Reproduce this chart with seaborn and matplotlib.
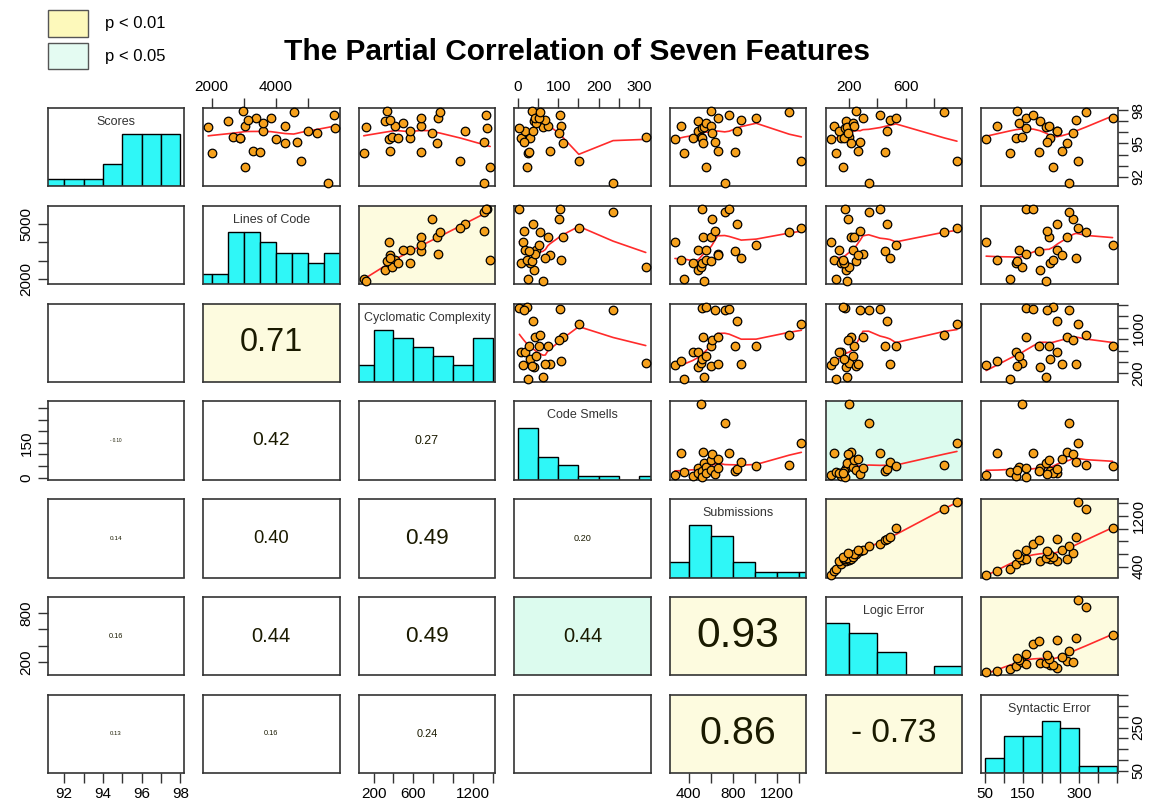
import numpy as np
import pandas as pd
import matplotlib
matplotlib.use("Agg")
import matplotlib.pyplot as plt
from matplotlib.patches import Rectangle
import seaborn as sns

# ---- data: one entry per student project ----
names = ["Scores", "Lines of Code", "Cyclomatic Complexity", "Code Smells",
         "Submissions", "Logic Error", "Syntactic Error"]

scores = [95.4, 96.6, 94.1, 95.45, 97.05, 96.1, 95.6, 95.5, 96.4, 95.06,
          96.5, 96.8, 92.9, 97.93, 96.6, 95.95, 95.1, 97.25, 94.3, 91.4,
          97.6, 94.2, 96.1, 97.1, 97.3, 97.8, 93.4]
lines_of_code = [4016, 3034, 2010, 2890, 2520, 3608, 2674, 2890, 5827, 4284,
                 1890, 3608, 3034, 2980, 4284, 5271, 4643, 3393, 3300, 5626,
                 5808, 3517, 5003, 3125, 3839, 4553, 4767]
cyclomatic = [350, 417, 101, 567, 318, 567, 384, 444, 1338, 833,
              128, 500, 1372, 334, 674, 783, 1315, 843, 360, 1315,
              1332, 674, 1116, 367, 674, 866, 1073]
code_smells = [12, 108, 25, 8, 40, 18, 317, 30, 3.5, 112,
               62, 45, 22, 35, 74, 103, 15, 42, 80, 236,
               105, 28, 38, 68, 52, 55, 151]
submissions = [274, 325, 360, 435, 485, 485, 510, 520, 520, 525,
               535, 560, 560, 600, 600, 610, 640, 660, 660, 725,
               765, 820, 836, 875, 1010, 1311, 1420]
logic_error = [74, 95, 110, 150, 185, 130, 200, 165, 175, 215,
               190, 230, 160, 250, 240, 195, 280, 300, 265, 340,
               420, 455, 470, 490, 530, 870, 957]
syntactic_error = [53, 83, 116, 132, 195, 242, 147, 222, 158, 268,
                   211, 140, 230, 134, 220, 284, 215, 158, 254, 273,
                   178, 194, 242, 291, 388, 317, 297]

# printed partial correlations (row, column) in the lower triangle
partial_corr = {
    (3, 0): -0.10, (4, 0): 0.14, (5, 0): 0.16, (6, 0): 0.13,
    (2, 1): 0.71, (3, 1): 0.42, (4, 1): 0.40, (5, 1): 0.44, (6, 1): 0.16,
    (3, 2): 0.27, (4, 2): 0.49, (5, 2): 0.49, (6, 2): 0.24,
    (4, 3): 0.20, (5, 3): 0.44,
    (5, 4): 0.93, (6, 4): 0.86,
    (6, 5): -0.73,
}
sig_01 = [(2, 1), (5, 4), (6, 4), (6, 5)]
sig_05 = [(5, 3)]

hist_bins = {
    "Scores": np.arange(91, 99, 1),
    "Lines of Code": np.arange(1500, 6001, 500),
    "Cyclomatic Complexity": np.arange(0, 1401, 200),
    "Code Smells": np.arange(0, 351, 50),
    "Submissions": np.arange(200, 1601, 200),
    "Logic Error": np.arange(0, 1001, 200),
    "Syntactic Error": np.arange(50, 401, 50),
}

tick_values = {
    "Scores": list(range(92, 99)),
    "Lines of Code": [2000, 3000, 4000, 5000],
    "Cyclomatic Complexity": list(range(200, 1401, 200)),
    "Code Smells": list(range(0, 301, 50)),
    "Submissions": list(range(400, 1401, 200)),
    "Logic Error": [200, 400, 600, 800],
    "Syntactic Error": list(range(50, 401, 50)),
}
tick_shown = {
    ("Scores", "bottom"): [92, 94, 96, 98], ("Scores", "right"): [92, 95, 98],
    ("Lines of Code", "top"): [2000, 4000], ("Lines of Code", "left"): [2000, 5000],
    ("Cyclomatic Complexity", "bottom"): [200, 600, 1200],
    ("Cyclomatic Complexity", "right"): [200, 1000],
    ("Code Smells", "top"): [0, 100, 200, 300], ("Code Smells", "left"): [0, 150],
    ("Submissions", "bottom"): [400, 800, 1200], ("Submissions", "right"): [400, 1200],
    ("Logic Error", "top"): [200, 600], ("Logic Error", "left"): [200, 800],
    ("Syntactic Error", "bottom"): [50, 150, 300], ("Syntactic Error", "right"): [50, 250],
}

df = pd.DataFrame(dict(zip(names, [scores, lines_of_code, cyclomatic, code_smells,
                                   submissions, logic_error, syntactic_error])))

# ---- styling ----
sns.set_style("white")
plt.rcParams["font.family"] = ["Liberation Sans", "DejaVu Sans"]
plt.rcParams["text.color"] = "black"
plt.rcParams["xtick.labelcolor"] = "black"
plt.rcParams["ytick.labelcolor"] = "black"

ORANGE = "#f6a11c"
CYAN = "#2ff7f7"
RED = "#ff2b2b"
BG01 = "#fdfbdf"
BG05 = "#dcfbee"
LEG01 = "#fdf9bb"
LEG05 = "#e4fbf2"
FRAME = "#333333"


def lowess(x, y, f=2 / 3, iters=3):
    x = np.asarray(x, float)
    y = np.asarray(y, float)
    order = np.argsort(x, kind="stable")
    x, y = x[order], y[order]
    n = len(x)
    r = int(np.ceil(f * n))
    robust = np.ones(n)
    fit = np.zeros(n)
    for _ in range(iters + 1):
        for i in range(n):
            d = np.abs(x - x[i])
            h = max(np.sort(d)[r - 1], 1e-12)
            u = np.clip(d / h, 0, 1)
            w = (1 - u ** 3) ** 3 * robust
            sw = w.sum()
            xm = (w * x).sum() / sw
            ym = (w * y).sum() / sw
            sxx = (w * (x - xm) ** 2).sum()
            b = (w * (x - xm) * (y - ym)).sum() / sxx if sxx > 1e-9 else 0.0
            fit[i] = ym + b * (x[i] - xm)
        res = y - fit
        s = np.median(np.abs(res))
        if s <= 0:
            break
        u = np.clip(res / (6 * s), -1, 1)
        robust = (1 - u ** 2) ** 2
    return x, fit


def var_limits(v):
    lo, hi = df[v].min(), df[v].max()
    pad = 0.04 * (hi - lo)
    return lo - pad, hi + pad


lims = {v: var_limits(v) for v in names}

W, H = 1153, 810
fig = plt.figure(figsize=(W / 100, H / 100), dpi=100)

col_left = [47.5 + 155.6 * k for k in range(7)]
row_top = [108 + 97.8 * k for k in range(7)]
pw, ph = 136.5, 78.3


def style_axis(ax, side, var):
    ticks = tick_values[var]
    shown = tick_shown[(var, side)]
    labels = [str(t) if t in shown else "" for t in ticks]
    if side in ("top", "bottom"):
        ax.set_xticks(ticks)
        ax.set_xticklabels(labels)
        ax.tick_params(axis="x", which="both", top=(side == "top"),
                       bottom=(side == "bottom"), labeltop=(side == "top"),
                       labelbottom=(side == "bottom"), length=7, width=1,
                       color=FRAME, pad=3, labelsize=11, direction="out")
    else:
        ax.set_yticks(ticks)
        ax.set_yticklabels(labels)
        ax.tick_params(axis="y", which="both", left=(side == "left"),
                       right=(side == "right"), labelleft=(side == "left"),
                       labelright=(side == "right"), length=7, width=1,
                       color=FRAME, pad=3, labelsize=11, direction="out")
        for lab in ax.get_yticklabels():
            lab.set_rotation(90)
            lab.set_va("center")


for i, vy in enumerate(names):
    for j, vx in enumerate(names):
        x0 = col_left[j]
        y0 = row_top[i]
        ax = fig.add_axes([x0 / W, 1 - (y0 + ph) / H, pw / W, ph / H])
        ax.tick_params(left=False, bottom=False, labelleft=False, labelbottom=False)
        for sp in ax.spines.values():
            sp.set_color(FRAME)
            sp.set_linewidth(1.2)
        ax.set_xlim(lims[vx])

        if i == j:
            counts, _ = np.histogram(df[vx], bins=hist_bins[vx])
            sns.histplot(x=df[vx], bins=hist_bins[vx], ax=ax, color=CYAN,
                         edgecolor="black", linewidth=1, alpha=1, stat="count")
            ax.set_ylim(0, 1.5 * counts.max())
            ax.text(0.5, 0.82, vx, transform=ax.transAxes, ha="center",
                    va="center", fontsize=9, color="#333333")
        elif i < j:
            if (j, i) in sig_01:
                ax.set_facecolor(BG01)
            elif (j, i) in sig_05:
                ax.set_facecolor(BG05)
            sns.scatterplot(x=df[vx], y=df[vy], ax=ax, color=ORANGE, s=38,
                            edgecolor="black", linewidth=0.9, zorder=3,
                            clip_on=False)
            lx, ly = lowess(df[vx], df[vy])
            sns.lineplot(x=lx, y=ly, ax=ax, color=RED, linewidth=1.2,
                         estimator=None, sort=False, zorder=2)
            ax.set_ylim(lims[vy])
        else:
            ax.set_ylim(lims[vy])
            if (i, j) in sig_01:
                ax.set_facecolor(BG01)
            elif (i, j) in sig_05:
                ax.set_facecolor(BG05)
            r = partial_corr.get((i, j))
            if r is not None:
                txt = f"- {abs(r):.2f}" if r < 0 else f"{r:.2f}"
                ax.text(0.5, 0.5, txt, transform=ax.transAxes, ha="center",
                        va="center", fontsize=max(33 * abs(r), 2.5),
                        color="#1a1a00")

        ax.set_xlabel("")
        ax.set_ylabel("")

        # outer axes alternate between sides, as in a classic pairs plot
        if i == 0 and j % 2 == 1:
            style_axis(ax, "top", vx)
        if i == 6 and j % 2 == 0:
            style_axis(ax, "bottom", vx)
        if j == 0 and i % 2 == 1:
            style_axis(ax, "left", vy)
        if j == 6 and i % 2 == 0:
            if i == j:
                tw = ax.twinx()
                tw.set_ylim(lims[vy])
                for sp in tw.spines.values():
                    sp.set_visible(False)
                style_axis(tw, "right", vy)
                # twinx switches the count axis ticks back on; hide them again
                ax.tick_params(axis="y", which="both", left=False,
                               labelleft=False, right=False, labelright=False)
            else:
                style_axis(ax, "right", vy)

fig.text(577 / W, 1 - 52 / H, "The Partial Correlation of Seven Features",
         ha="center", va="center", fontsize=21.5, fontweight="bold",
         color="black")

for k, (fc, lab) in enumerate([(LEG01, "p < 0.01"), (LEG05, "p < 0.05")]):
    top = 10 + 32.7 * k
    fig.add_artist(Rectangle((48.3 / W, 1 - (top + 26.7) / H), 40 / W, 26.7 / H,
                             transform=fig.transFigure, facecolor=fc,
                             edgecolor="#555555", linewidth=1))
    fig.text(105 / W, 1 - (top + 13.5) / H, lab, ha="left", va="center",
             fontsize=12)

fig.savefig("out.png", dpi=100)
